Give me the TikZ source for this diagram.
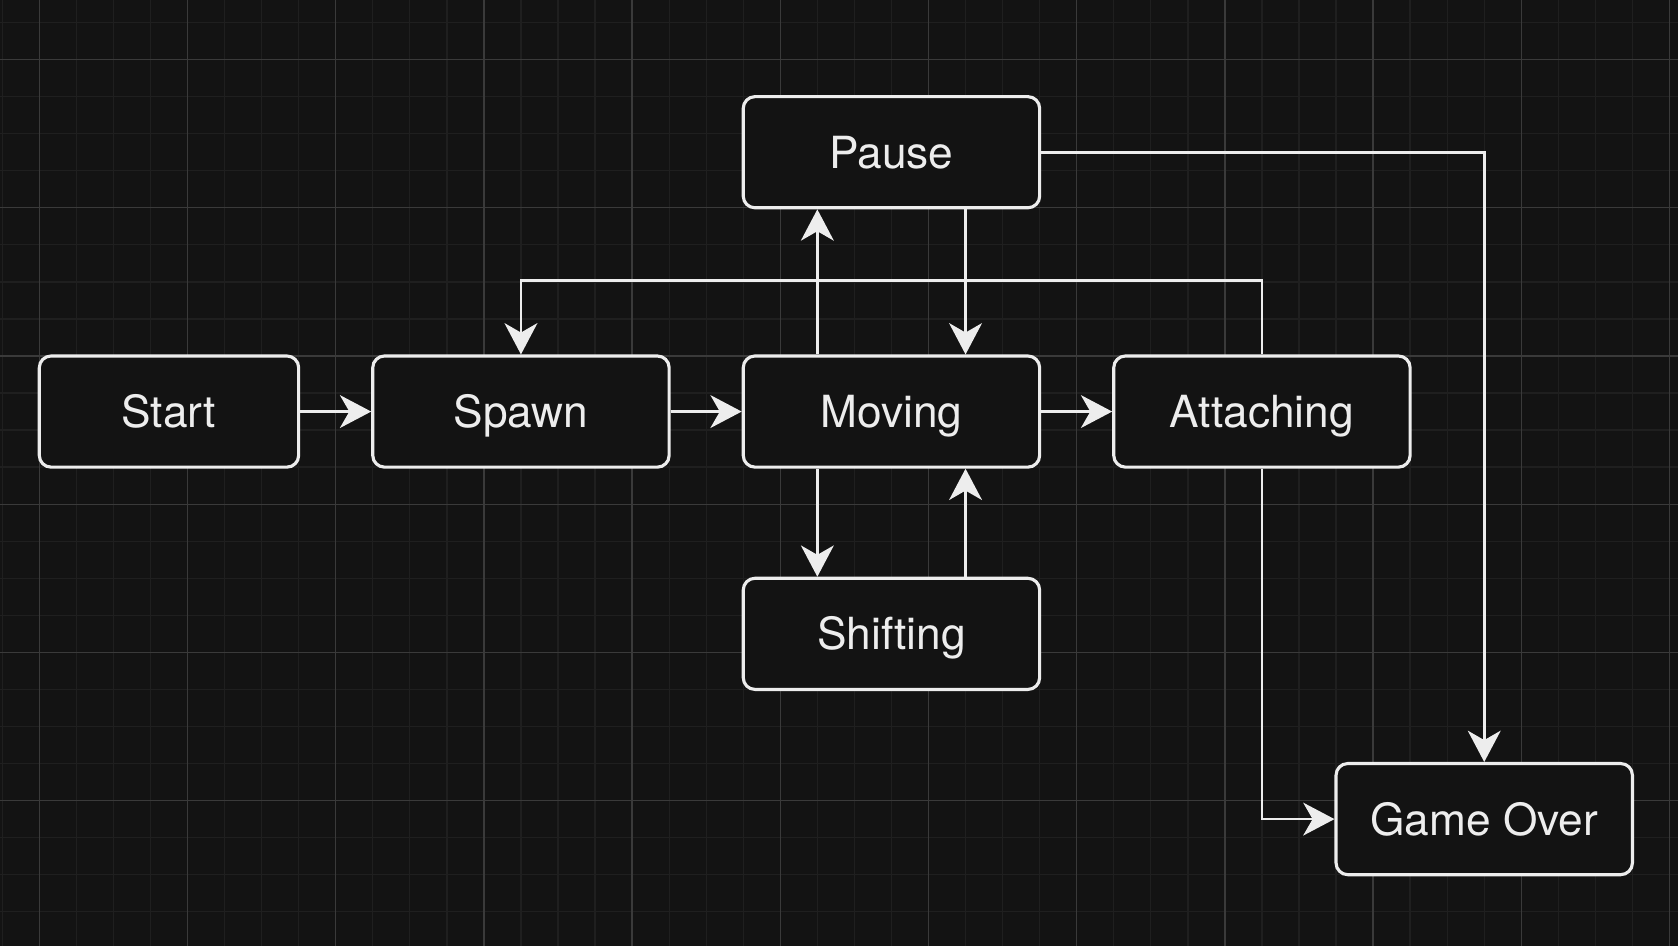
\documentclass[tikz,border=0pt]{standalone}
\usepackage{fontspec}
\setmainfont{TeX Gyre Heros}
\usepackage{tikz}
\usetikzlibrary{arrows.meta}
\definecolor{canvas}{HTML}{131313}
\definecolor{minorline}{HTML}{1F1F1F}
\definecolor{majorline}{HTML}{3A3A3A}
\definecolor{ink}{HTML}{EDEDED}
\tikzset{
  every picture/.style={>=Stealth},
  state/.style={draw=ink, fill=canvas, text=ink, line width=1.2pt, rounded corners=4.5pt,
    minimum width=4cm, minimum height=1.5cm, text height=12.2pt, text depth=0pt,
    font=\fontsize{17}{20}\selectfont},
  flow/.style={draw=ink, line width=1.05pt, -{Stealth[length=12pt,width=12.6pt,inset=3.6pt]}},
  minorgrid/.style={draw=minorline, line width=0.5pt},
  majorgrid/.style={draw=majorline, line width=0.5pt},
}

\begin{document}
\begin{tikzpicture}[x=0.5cm,y=-0.5cm]
% canvas and grid
\useasboundingbox (-1.061,-9.609) rectangle (44.23,15.924);
\fill[canvas] (-1.061,-9.609) rectangle (44.23,15.924);
\begin{scope}
\clip (-1.061,-9.609) rectangle (44.23,15.924);
\foreach \x in {-1,...,44}{\draw[minorgrid] (\x,-9.609)--(\x,15.924);}
\foreach \y in {-9,...,15}{\draw[minorgrid] (-1.061,\y)--(44.23,\y);}
\foreach \x in {0,4,...,44}{\draw[majorgrid] (\x,-9.609)--(\x,15.924);}
\foreach \y in {-8,-4,...,12}{\draw[majorgrid] (-1.061,\y)--(44.23,\y);}
\end{scope}
% states
\node[state, minimum width=3.5cm] (start) at (3.5,1.5) {Start};
\node[state] (spawn)     at (13,1.5)  {Spawn};
\node[state] (moving)    at (23,1.5)  {Moving};
\node[state] (attaching) at (33,1.5)  {Attaching};
\node[state] (pause)     at (23,-5.5) {Pause};
\node[state] (shifting)  at (23,7.5)  {Shifting};
\node[state] (gameover)  at (39,12.5) {Game Over};
% main line
\draw[flow] (start) -- (spawn);
\draw[flow] (spawn) -- (moving);
\draw[flow] (moving) -- (attaching);
% pause and shifting loops
\draw[flow] ([xshift=-1cm]moving.north) -- ([xshift=-1cm]pause.south);
\draw[flow] ([xshift=1cm]pause.south) -- ([xshift=1cm]moving.north);
\draw[flow] ([xshift=-1cm]moving.south) -- ([xshift=-1cm]shifting.north);
\draw[flow] ([xshift=1cm]shifting.north) -- ([xshift=1cm]moving.south);
% back to spawn, and game over
\draw[flow] (attaching.north) -- ++(0,-2) -| (spawn.north);
\draw[flow] (pause.east) -| (gameover.north);
\draw[flow] (attaching.south) |- (gameover.west);
\end{tikzpicture}
\end{document}
